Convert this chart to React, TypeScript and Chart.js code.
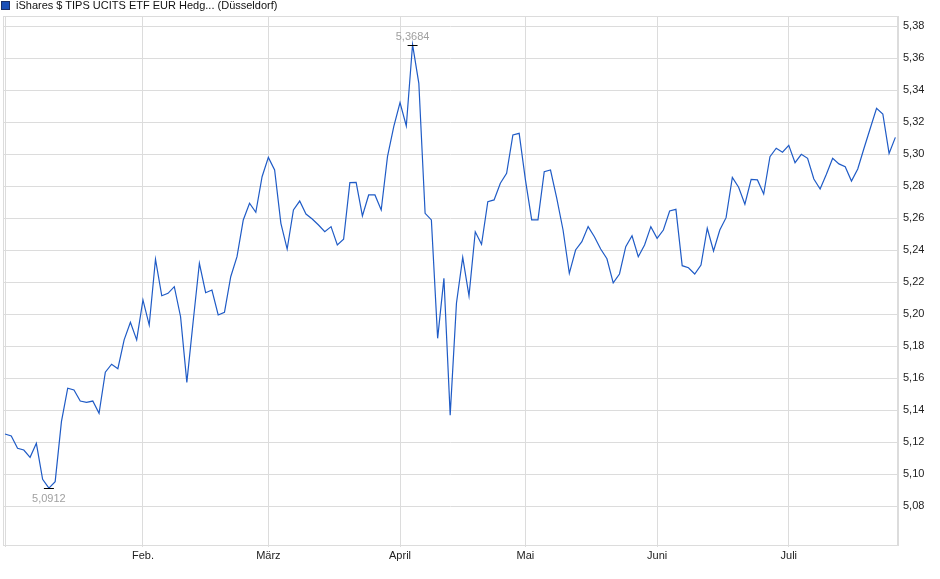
import { useEffect, useRef } from 'react';
import Chart from 'chart.js/auto';

// one value per trading day, 2 Jan – 24 Jul
const prices = [
  5.125, 5.1238, 5.1161, 5.115, 5.1104, 5.1192, 5.0967, 5.0912, 5.0952, 5.1327,
  5.1536, 5.1525, 5.1456, 5.1448, 5.1456, 5.1379, 5.1636, 5.1686, 5.1658, 5.1838,
  5.1948, 5.1838, 5.2088, 5.1931, 5.2342, 5.2114, 5.2129, 5.2171, 5.1983, 5.1573,
  5.195, 5.2317, 5.2133, 5.215, 5.1994, 5.2011, 5.2233, 5.2358, 5.2588, 5.2692,
  5.2636, 5.2858, 5.2979, 5.29, 5.2567, 5.2406, 5.265, 5.2706, 5.2625, 5.2594,
  5.2556, 5.2514, 5.2546, 5.2431, 5.2467, 5.2821, 5.2823, 5.2613, 5.2744, 5.2744,
  5.265, 5.2983, 5.3171, 5.3321, 5.3175, 5.3684, 5.3442, 5.2629, 5.2588, 5.1848,
  5.2223, 5.1368, 5.2067, 5.2354, 5.2113, 5.2514, 5.2436, 5.2702, 5.2713, 5.2817,
  5.2879, 5.3119, 5.3129, 5.2838, 5.2588, 5.2588, 5.2889, 5.29, 5.2723, 5.2525,
  5.2254, 5.24, 5.2452, 5.2546, 5.2483, 5.2406, 5.2345, 5.2194, 5.225, 5.2421,
  5.2489, 5.2358, 5.2431, 5.2546, 5.2473, 5.2525, 5.2644, 5.2654, 5.2302, 5.2289,
  5.225, 5.2306, 5.2536, 5.2394, 5.2525, 5.2602, 5.2854, 5.2792, 5.2686, 5.2842,
  5.2838, 5.275, 5.2983, 5.3036, 5.3011, 5.3054, 5.2946, 5.2998, 5.2973, 5.2844,
  5.2781, 5.2873, 5.2973, 5.2938, 5.2921, 5.2831, 5.2906, 5.3036, 5.3161, 5.3286,
  5.325, 5.3004, 5.3104,
];

// index of the first trading day of each month
const monthStarts = [0, 22, 42, 63, 83, 104, 125];
const monthLabels = ['', 'Feb.', 'März', 'April', 'Mai', 'Juni', 'Juli'];

const yTicks = [5.08, 5.1, 5.12, 5.14, 5.16, 5.18, 5.2, 5.22, 5.24, 5.26, 5.28, 5.3, 5.32, 5.34, 5.36, 5.38];

const seriesName = 'iShares $ TIPS UCITS ETF EUR Hedg... (Düsseldorf)';
const lineColor = '#1f5bc6';
const gridColor = '#dcdcdc';
const fontFamily = '"Liberation Sans", Arial, sans-serif';

const fmt = (v: number, d: number) => v.toFixed(d).replace('.', ',');

// marks the low and the high of the period
const extremesPlugin = {
  id: 'extremes',
  beforeDatasetsDraw(chart: any) {
    const { ctx, chartArea } = chart;
    ctx.save();
    ctx.strokeStyle = gridColor;
    ctx.lineWidth = 1;
    ctx.strokeRect(chartArea.left + 0.5, chartArea.top + 0.5, chartArea.right - chartArea.left - 1, chartArea.bottom - chartArea.top);
    ctx.restore();
  },
  afterDatasetsDraw(chart: any) {
    const { ctx, scales } = chart;
    const lo = Math.min(...prices);
    const hi = Math.max(...prices);
    const loIdx = prices.indexOf(lo);
    const hiIdx = prices.indexOf(hi);
    ctx.save();
    ctx.strokeStyle = '#000';
    ctx.lineWidth = 1;
    ctx.font = `11px ${fontFamily}`;
    ctx.fillStyle = '#a0a0a0';
    ctx.textAlign = 'center';

    const lx = scales.x.getPixelForValue(loIdx);
    const ly = Math.round(scales.y.getPixelForValue(lo)) + 0.5;
    ctx.beginPath();
    ctx.moveTo(lx - 5, ly);
    ctx.lineTo(lx + 5, ly);
    ctx.stroke();
    ctx.textBaseline = 'top';
    ctx.fillText(fmt(lo, 4), lx, ly + 5);

    const hx = scales.x.getPixelForValue(hiIdx);
    const hy = Math.round(scales.y.getPixelForValue(hi)) + 0.5;
    ctx.beginPath();
    ctx.moveTo(hx - 5, hy);
    ctx.lineTo(hx + 5, hy);
    ctx.stroke();
    ctx.textBaseline = 'bottom';
    ctx.fillText(fmt(hi, 4), hx, hy - 3);
    ctx.restore();
  },
};

export default function App() {
  const canvasRef = useRef<HTMLCanvasElement | null>(null);

  useEffect(() => {
    const canvas = canvasRef.current;
    if (!canvas) return;

    const chart = new Chart(canvas, {
      type: 'line',
      data: {
        datasets: [
          {
            label: seriesName,
            data: prices.map((p, i) => ({ x: i, y: p })),
            borderColor: lineColor,
            borderWidth: 1.2,
            pointRadius: 0,
            tension: 0,
          },
        ],
      },
      options: {
        responsive: false,
        animation: false,
        layout: { padding: { left: 3, top: 16, right: 0, bottom: 0 } },
        plugins: {
          legend: { display: false },
          tooltip: { enabled: false },
        },
        scales: {
          x: {
            type: 'linear',
            min: -0.32,
            max: 142.42,
            afterBuildTicks: (scale: any) => {
              scale.ticks = monthStarts.map(v => ({ value: v }));
            },
            afterFit: (scale: any) => {
              scale.height = 34;
            },
            grid: { color: gridColor, tickLength: 2 },
            border: { color: gridColor },
            ticks: {
              autoSkip: false,
              maxRotation: 0,
              padding: 2,
              color: '#222',
              font: { family: fontFamily, size: 11 },
              callback: (_v: any, i: number) => monthLabels[i],
            },
          },
          y: {
            position: 'right',
            min: 5.055625,
            max: 5.38625,
            afterBuildTicks: (scale: any) => {
              scale.ticks = yTicks.map(v => ({ value: v }));
            },
            afterFit: (scale: any) => {
              scale.width = 42;
            },
            grid: { color: gridColor, drawTicks: false },
            border: { color: gridColor },
            ticks: {
              padding: 5,
              color: '#222',
              font: { family: fontFamily, size: 11 },
              callback: (v: any) => fmt(Number(v), 2),
            },
          },
        },
      },
      plugins: [extremesPlugin],
    });

    return () => chart.destroy();
  }, []);

  return (
    <div style={{ position: 'absolute', left: 0, top: 0, width: 940, height: 579, background: '#fff' }}>
      <canvas ref={canvasRef} width={940} height={579} style={{ position: 'absolute', left: 0, top: 0 }} />
      <div
        style={{
          position: 'absolute',
          left: 1,
          top: 0,
          display: 'flex',
          alignItems: 'center',
          font: `11px ${fontFamily}`,
          color: '#111',
          whiteSpace: 'nowrap',
          lineHeight: '11px',
        }}
      >
        <span
          style={{
            display: 'inline-block',
            width: 7,
            height: 7,
            background: '#1a4fb8',
            border: '1px solid #1b2f66',
            marginRight: 6,
          }}
        />
        {seriesName}
      </div>
    </div>
  );
}
